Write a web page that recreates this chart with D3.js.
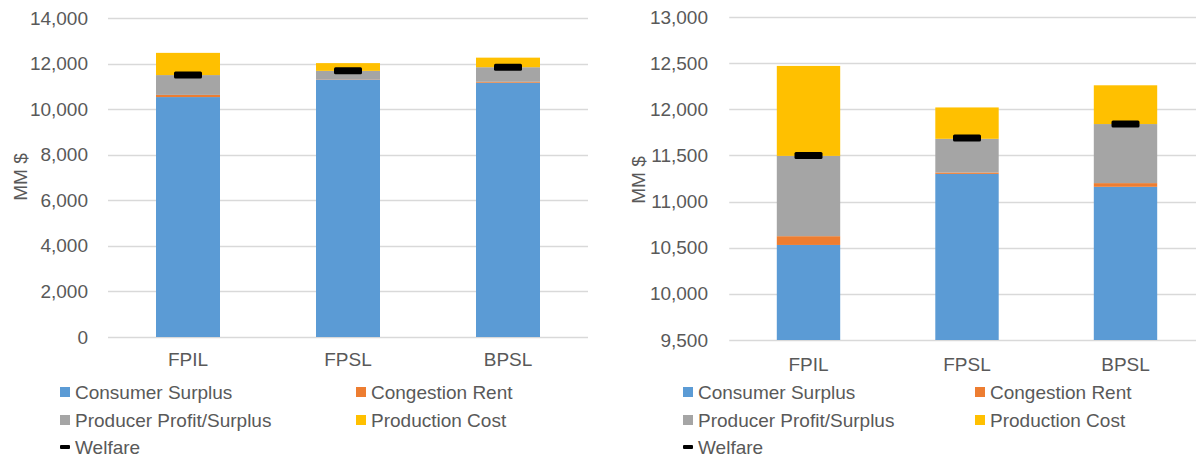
<!DOCTYPE html>
<html>
<head>
<meta charset="utf-8">
<script src="https://cdn.jsdelivr.net/npm/d3@7"></script>
<style>
  html, body { margin: 0; padding: 0; background: #fff; }
  svg { display: block; font-family: "Liberation Sans", Arial, sans-serif; }
</style>
</head>
<body>
<svg id="chart" width="1196" height="457"></svg>
<script>
// Market outcome components by scenario, MM $
const categories = ["FPIL", "FPSL", "BPSL"];
const consumerSurplus = [10530, 11300, 11160];
const congestionRent = [95, 15, 40];
const producerProfit = [870, 365, 640];
const productionCost = [975, 340, 420];
const welfare = [11500, 11690, 11840];

const seriesNames = ["Consumer Surplus", "Congestion Rent", "Producer Profit/Surplus", "Production Cost"];
const seriesColors = ["#5B9BD5", "#ED7D31", "#A5A5A5", "#FFC000"];

const leftTicks = [0, 2000, 4000, 6000, 8000, 10000, 12000, 14000];
const rightTicks = [9500, 10000, 10500, 11000, 11500, 12000, 12500, 13000];

const rows = categories.map((c, i) => ({
  cat: c,
  "Consumer Surplus": consumerSurplus[i],
  "Congestion Rent": congestionRent[i],
  "Producer Profit/Surplus": producerProfit[i],
  "Production Cost": productionCost[i],
  welfare: welfare[i]
}));
const stacked = d3.stack().keys(seriesNames)(rows);

const svg = d3.select("#chart");
const textColor = "#595959";
const gridColor = "#D9D9D9";
const fmt = d3.format(",");

function drawPanel(opt) {
  const g = svg.append("g");
  const y = d3.scaleLinear().domain(opt.domain).range([opt.bottom, opt.top]).clamp(true);
  const x = d3.scaleBand().domain(categories).range([opt.left, opt.right])
    .paddingInner(0.6).paddingOuter(0.3);

  // gridlines
  g.append("g").selectAll("line").data(opt.ticks).join("line")
    .attr("x1", opt.left).attr("x2", opt.right)
    .attr("y1", d => Math.round(y(d)) + 0.5).attr("y2", d => Math.round(y(d)) + 0.5)
    .attr("stroke", gridColor).attr("stroke-width", 1.3);

  // y axis labels
  const yAxis = d3.axisLeft(y).tickValues(opt.ticks).tickFormat(fmt).tickSize(0).tickPadding(0);
  const ya = g.append("g").attr("transform", `translate(${opt.labelX},0)`).call(yAxis);
  ya.select(".domain").remove();
  ya.selectAll("text").attr("fill", textColor).style("font-size", "19px")
    .style("font-family", "'Liberation Sans', Arial, sans-serif");

  // stacked bars
  g.append("g").selectAll("g").data(stacked).join("g")
    .attr("fill", (d, i) => seriesColors[i])
    .selectAll("rect").data(d => d).join("rect")
    .attr("x", d => x(d.data.cat))
    .attr("width", x.bandwidth())
    .attr("y", d => y(d[1]))
    .attr("height", d => Math.max(0, y(d[0]) - y(d[1])));

  // welfare markers
  g.append("g").selectAll("rect").data(rows).join("rect")
    .attr("x", d => x(d.cat) + x.bandwidth() / 2 - 14)
    .attr("y", d => y(d.welfare) - 3.5)
    .attr("width", 28).attr("height", 7).attr("rx", 1.5)
    .attr("fill", "#000");

  // x axis
  const xAxis = d3.axisBottom(x).tickSize(0).tickPadding(0);
  const xa = g.append("g").attr("transform", `translate(0,${opt.catY})`).call(xAxis);
  xa.select(".domain").remove();
  xa.selectAll("text").attr("fill", textColor).attr("dy", "0.35em").attr("y", 0)
    .style("font-size", "19px").style("font-family", "'Liberation Sans', Arial, sans-serif");

  // y axis title
  g.append("text")
    .attr("transform", `translate(${opt.titleX},${opt.titleY}) rotate(-90)`)
    .attr("text-anchor", "middle").attr("dy", "0.35em")
    .attr("fill", textColor).style("font-size", "19px").text("MM $");

  // legend
  const leg = g.append("g");
  const items = [
    { name: seriesNames[0], color: seriesColors[0], col: 0, row: 0 },
    { name: seriesNames[1], color: seriesColors[1], col: 1, row: 0 },
    { name: seriesNames[2], color: seriesColors[2], col: 0, row: 1 },
    { name: seriesNames[3], color: seriesColors[3], col: 1, row: 1 },
    { name: "Welfare", color: "#000", col: 0, row: 2, line: true }
  ];
  const rowY = [392, 420, 447];
  items.forEach(it => {
    const mx = opt.legendX[it.col];
    const cy = rowY[it.row];
    if (it.line) {
      leg.append("rect").attr("x", mx).attr("y", cy - 2).attr("width", 10).attr("height", 4)
        .attr("rx", 1).attr("fill", it.color);
    } else {
      leg.append("rect").attr("x", mx).attr("y", cy - 5).attr("width", 10).attr("height", 10)
        .attr("fill", it.color);
    }
    leg.append("text").attr("x", mx + 15).attr("y", cy).attr("dy", "0.35em")
      .attr("fill", textColor).style("font-size", "19px").text(it.name);
  });
}

drawPanel({
  domain: [0, 14000], ticks: leftTicks,
  top: 18, bottom: 337, left: 108, right: 588,
  labelX: 88, catY: 359, titleX: 20, titleY: 177,
  legendX: [60, 356]
});

drawPanel({
  domain: [9500, 13000], ticks: rightTicks,
  top: 17, bottom: 340, left: 729.25, right: 1204.75,
  labelX: 708, catY: 364, titleX: 638, titleY: 180,
  legendX: [683, 975]
});
</script>
</body>
</html>
